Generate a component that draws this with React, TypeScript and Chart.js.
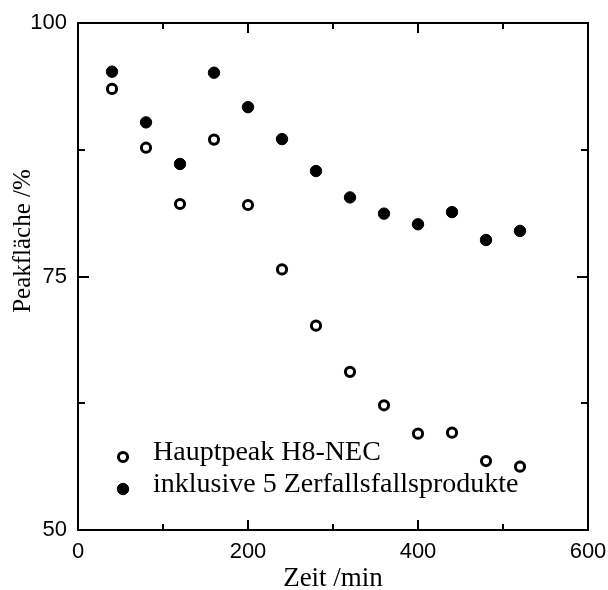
import React, { useEffect, useRef } from "react";
import { Chart, registerables } from "chart.js";

Chart.register(...registerables);

// ---- data ----
const timeMin = [40, 80, 120, 160, 200, 240, 280, 320, 360, 400, 440, 480, 520];
const hauptpeak = [93.5, 87.7, 82.15, 88.5, 82.05, 75.7, 70.15, 65.6, 62.3, 59.5, 59.6, 56.8, 56.25];
const inklusive = [95.2, 90.2, 86.1, 95.1, 91.7, 88.55, 85.4, 82.8, 81.2, 80.15, 81.35, 78.6, 79.5];
const seriesLabels = ["Hauptpeak H8-NEC", "inklusive 5 Zerfallsfallsprodukte"];
const xMajorTicks = [0, 200, 400, 600];
const xMinorTicks = [100, 300, 500];
const yMajorTicks = [50, 75, 100];
const yMinorTicks = [62.5, 87.5];
const xTitle = "Zeit /min";
const yTitle = "Peakfläche /%";

const SERIF = "'Liberation Serif', 'Times New Roman', serif";
const SANS = "'Liberation Sans', Arial, sans-serif";

const framePlugin = {
  id: "frameTicks",
  afterDatasetsDraw(chart: any) {
    const { ctx, chartArea } = chart;
    const { left, right, top, bottom } = chartArea;
    const xs = chart.scales.x;
    const ys = chart.scales.y;
    ctx.save();
    ctx.strokeStyle = "#000";
    ctx.lineWidth = 2;
    ctx.strokeRect(left, top, right - left, bottom - top);
    const xMaj = 10, xMin = 6, yMaj = 11, yMin = 7;
    ctx.beginPath();
    const vx = (vals: number[], len: number) => {
      vals.forEach((v) => {
        const px = Math.round(xs.getPixelForValue(v));
        ctx.moveTo(px, bottom);
        ctx.lineTo(px, bottom - len);
        ctx.moveTo(px, top);
        ctx.lineTo(px, top + len);
      });
    };
    const vy = (vals: number[], len: number) => {
      vals.forEach((v) => {
        const py = Math.round(ys.getPixelForValue(v));
        ctx.moveTo(left, py);
        ctx.lineTo(left + len, py);
        ctx.moveTo(right, py);
        ctx.lineTo(right - len, py);
      });
    };
    vx(xMajorTicks, xMaj);
    vx(xMinorTicks, xMin);
    vy(yMajorTicks, yMaj);
    vy(yMinorTicks, yMin);
    ctx.stroke();
    ctx.restore();
  },
  afterDraw(chart: any) {
    const { ctx, chartArea } = chart;
    ctx.save();
    // y-axis title
    ctx.fillStyle = "#000";
    ctx.font = `25px ${SERIF}`;
    ctx.textAlign = "center";
    ctx.textBaseline = "middle";
    ctx.translate(chartArea.left - 55, chartArea.top + 218);
    ctx.rotate(-Math.PI / 2);
    ctx.fillText(yTitle, 0, 0);
    ctx.restore();

    // legend inside plot area
    ctx.save();
    const markerX = chartArea.left + 45;
    const textX = chartArea.left + 75;
    const rows = [
      { markerY: chartArea.top + 434, baseY: chartArea.top + 437 },
      { markerY: chartArea.top + 466, baseY: chartArea.top + 468.5 },
    ];
    chart.data.datasets.forEach((ds: any, i: number) => {
      const r = rows[i];
      ctx.beginPath();
      ctx.arc(markerX, r.markerY, ds.pointRadius, 0, Math.PI * 2);
      ctx.fillStyle = ds.backgroundColor;
      ctx.fill();
      ctx.lineWidth = ds.borderWidth;
      ctx.strokeStyle = ds.borderColor;
      ctx.stroke();
      ctx.fillStyle = "#000";
      ctx.font = `28px ${SERIF}`;
      ctx.textAlign = "left";
      ctx.textBaseline = "alphabetic";
      ctx.fillText(ds.label, textX, r.baseY);
    });
    ctx.restore();
  },
};

export default function App() {
  const canvasRef = useRef<HTMLCanvasElement | null>(null);

  useEffect(() => {
    if (!canvasRef.current) return;
    const chart = new Chart(canvasRef.current, {
      type: "scatter",
      data: {
        datasets: [
          {
            label: seriesLabels[0],
            data: timeMin.map((t, i) => ({ x: t, y: hauptpeak[i] })),
            pointStyle: "circle",
            pointRadius: 4.6,
            pointHoverRadius: 4.6,
            backgroundColor: "#ffffff",
            borderColor: "#000000",
            borderWidth: 3,
          },
          {
            label: seriesLabels[1],
            data: timeMin.map((t, i) => ({ x: t, y: inklusive[i] })),
            pointStyle: "circle",
            pointRadius: 5.7,
            pointHoverRadius: 5.7,
            backgroundColor: "#000000",
            borderColor: "#000000",
            borderWidth: 1,
          },
        ],
      },
      options: {
        responsive: false,
        animation: false,
        devicePixelRatio: 1,
        layout: { padding: { left: 0, top: 23, right: 20, bottom: 0 } },
        plugins: {
          legend: { display: false },
          tooltip: { enabled: false },
        },
        scales: {
          x: {
            type: "linear",
            min: 0,
            max: 600,
            afterBuildTicks: (scale: any) => {
              scale.ticks = xMajorTicks.map((v) => ({ value: v }));
            },
            ticks: {
              color: "#000",
              font: { family: SANS, size: 22 },
              padding: 9,
              maxRotation: 0,
            },
            grid: { display: false, drawTicks: false },
            border: { display: false },
            title: {
              display: true,
              text: xTitle,
              color: "#000",
              font: { family: SERIF, size: 27, lineHeight: 0.85 },
              padding: { top: 0, bottom: 0 },
            },
            afterFit: (scale: any) => {
              scale.height = 60;
              scale.paddingLeft = 0;
              scale.paddingRight = 0;
            },
          },
          y: {
            type: "linear",
            min: 50,
            max: 100,
            afterBuildTicks: (scale: any) => {
              scale.ticks = yMajorTicks.map((v) => ({ value: v }));
            },
            ticks: {
              color: "#000",
              font: { family: SANS, size: 22 },
              padding: 11,
            },
            grid: { display: false, drawTicks: false },
            border: { display: false },
            afterFit: (scale: any) => {
              scale.width = 78;
              scale.paddingTop = 0;
              scale.paddingBottom = 0;
            },
          },
        },
      },
      plugins: [framePlugin],
    });
    return () => chart.destroy();
  }, []);

  return (
    <div style={{ position: "fixed", left: 0, top: 0, width: 608, height: 590, background: "#fff" }}>
      <canvas ref={canvasRef} width={608} height={590} style={{ display: "block" }} />
    </div>
  );
}
